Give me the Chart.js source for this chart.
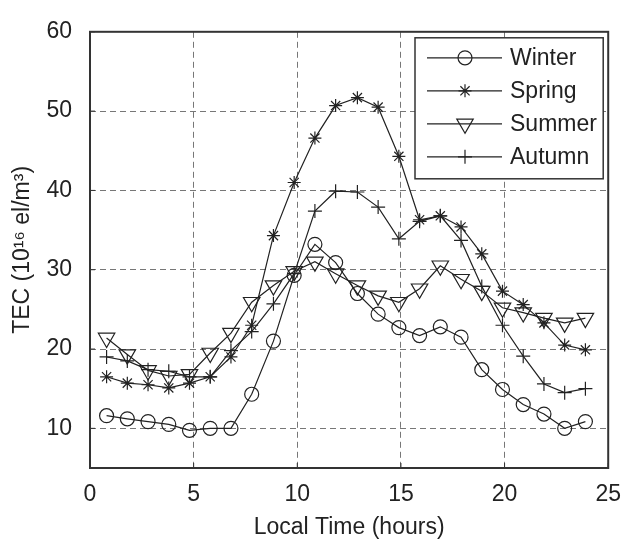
<!DOCTYPE html>
<html>
<head>
<meta charset="utf-8">
<script src="https://cdn.jsdelivr.net/npm/chart.js"></script>
<style>
  body { margin: 0; background: #fff; }
</style>
</head>
<body>
<canvas id="tecChart" width="634" height="541"></canvas>
<script>
// local time of each sample (hours)
const hours  = [0.8, 1.8, 2.8, 3.8, 4.8, 5.8, 6.8, 7.8, 8.85, 9.85, 10.85, 11.85,
                12.9, 13.9, 14.9, 15.9, 16.9, 17.9, 18.9, 19.9, 20.9, 21.9, 22.9, 23.9];
const winter = [11.6, 11.2, 10.85, 10.5, 9.75, 10.0, 10.0, 14.3, 21.0, 29.3, 33.2, 30.9,
                27.0, 24.4, 22.7, 21.7, 22.8, 21.5, 17.4, 14.9, 13.0, 11.8, 10.0, 10.85];
const spring = [16.5, 15.7, 15.5, 15.1, 15.7, 16.5, 19.0, 23.0, 34.3, 41.0, 46.6, 50.7,
                51.7, 50.5, 44.3, 36.3, 36.8, 35.4, 32.0, 27.3, 25.6, 23.3, 20.5, 19.9];
const summer = [21.4, 19.3, 17.3, 16.6, 16.8, 19.5, 22.0, 25.9, 28.0, 29.8, 31.0, 29.5,
                28.0, 26.7, 25.9, 27.6, 30.5, 28.8, 27.3, 25.2, 24.6, 23.9, 23.3, 23.9];
const autumn = [19.0, 18.5, 17.4, 17.2, 16.5, 16.5, 19.8, 22.2, 25.7, 29.5, 37.4, 39.9,
                39.8, 37.9, 33.9, 36.1, 36.8, 33.7, 27.9, 23.0, 19.1, 15.6, 14.5, 15.0];

const seriesNames = ["Winter", "Spring", "Summer", "Autumn"];
const xTicks = [0, 5, 10, 15, 20, 25];
const yTicks = [10, 20, 30, 40, 50, 60];

const ink = '#222';
const fontFamily = '"Liberation Sans", Arial, sans-serif';
const fontSize = 23;
Chart.defaults.font.family = fontFamily;
Chart.defaults.color = ink;

// marker look per series (same order as seriesNames)
const markerStyles = [
  { pointStyle: 'circle',   radius: 7,   rotation: 0 },
  { pointStyle: 'star',     radius: 6.5, rotation: 0 },
  { pointStyle: 'triangle', radius: 9.5, rotation: 180 },
  { pointStyle: 'cross',    radius: 7,   rotation: 0 }
];

const seriesValues = [winter, spring, summer, autumn];

const datasets = seriesValues.map((vals, i) => ({
  label: seriesNames[i],
  data: vals.map((v, k) => ({ x: hours[k], y: v })),
  borderColor: ink,
  borderWidth: 1.2,
  pointStyle: markerStyles[i].pointStyle,
  pointRadius: markerStyles[i].radius,
  pointRotation: markerStyles[i].rotation,
  pointBorderColor: ink,
  pointBackgroundColor: 'rgba(0,0,0,0)',
  pointBorderWidth: 1.2,
  tension: 0,
  fill: false
}));

// box around the plot plus short inward ticks
const framePlugin = {
  id: 'frame',
  beforeDatasetsDraw(chart) {
    const { ctx, chartArea: a, scales } = chart;
    ctx.save();
    ctx.strokeStyle = '#333';
    ctx.lineWidth = 1;
    ctx.beginPath();
    xTicks.forEach(v => {
      const px = scales.x.getPixelForValue(v);
      ctx.moveTo(px, a.bottom);
      ctx.lineTo(px, a.bottom - 5);
    });
    yTicks.forEach(v => {
      const py = scales.y.getPixelForValue(v);
      ctx.moveTo(a.left, py);
      ctx.lineTo(a.left + 5, py);
    });
    ctx.stroke();
    ctx.lineWidth = 2;
    ctx.strokeRect(a.left, a.top, a.right - a.left, a.bottom - a.top);
    ctx.restore();
  }
};

// matlab-style legend: line with marker in the middle
const legendPlugin = {
  id: 'lineLegend',
  afterDraw(chart) {
    const { ctx, chartArea: a } = chart;
    const box = { left: a.left + 325, top: a.top + 6, right: a.right - 5, bottom: a.top + 147 };
    ctx.save();
    ctx.fillStyle = '#fff';
    ctx.fillRect(box.left, box.top, box.right - box.left, box.bottom - box.top);
    ctx.strokeStyle = '#333';
    ctx.lineWidth = 1.5;
    ctx.strokeRect(box.left, box.top, box.right - box.left, box.bottom - box.top);

    chart.data.datasets.forEach((ds, i) => {
      const y = box.top + 20 + i * 33;
      ctx.strokeStyle = ink;
      ctx.lineWidth = 1.2;
      ctx.beginPath();
      ctx.moveTo(box.left + 12, y);
      ctx.lineTo(box.left + 87, y);
      ctx.stroke();
      ctx.fillStyle = 'rgba(0,0,0,0)';
      Chart.helpers.drawPoint(ctx, {
        pointStyle: ds.pointStyle,
        rotation: ds.pointRotation,
        radius: ds.pointRadius,
        borderWidth: 1.2
      }, box.left + 50, y);
      ctx.fillStyle = ink;
      ctx.font = fontSize + 'px ' + fontFamily;
      ctx.textAlign = 'left';
      ctx.textBaseline = 'middle';
      ctx.fillText(ds.label, box.left + 95, y + 1);
    });
    ctx.restore();
  }
};

new Chart(document.getElementById('tecChart'), {
  type: 'line',
  data: { datasets },
  plugins: [framePlugin, legendPlugin],
  options: {
    responsive: false,
    animation: false,
    events: [],
    layout: { padding: { top: 17, right: 13, left: 0, bottom: 0 } },
    plugins: {
      legend: { display: false },
      tooltip: { enabled: false }
    },
    scales: {
      x: {
        type: 'linear',
        min: 0,
        max: 25,
        afterBuildTicks: s => { s.ticks = xTicks.map(v => ({ value: v })); },
        afterFit: s => { s.height = 73; },
        grid: { color: '#777', lineWidth: 1, drawTicks: false },
        border: { display: false, dash: [6, 4] },
        ticks: { color: ink, padding: 13, maxRotation: 0, font: { size: fontSize } },
        title: { display: true, text: 'Local Time (hours)', color: ink, padding: 0, font: { size: fontSize } }
      },
      y: {
        type: 'linear',
        min: 5,
        max: 60,
        afterBuildTicks: s => { s.ticks = yTicks.map(v => ({ value: v })); },
        afterFit: s => { s.width = 90; },
        grid: { color: '#777', lineWidth: 1, drawTicks: false },
        border: { display: false, dash: [6, 4] },
        ticks: { color: ink, padding: 18, font: { size: fontSize } },
        title: { display: true, text: 'TEC (10¹⁶ el/m³)', color: ink, padding: { top: 9, bottom: 0 }, font: { size: fontSize } }
      }
    }
  }
});
</script>
</body>
</html>
